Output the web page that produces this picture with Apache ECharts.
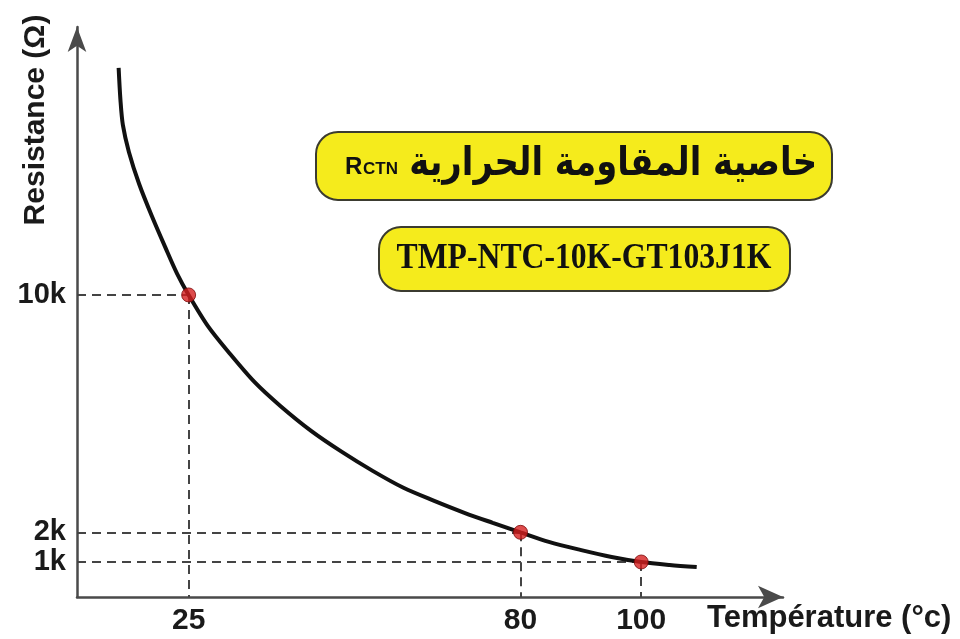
<!DOCTYPE html>
<html>
<head>
<meta charset="utf-8">
<script src="https://cdn.jsdelivr.net/npm/echarts@6/dist/echarts.min.js"></script>
<style>
  html, body { margin: 0; padding: 0; background: #fff; }
  #chart { width: 960px; height: 639px; }
</style>
</head>
<body>
<div id="chart"></div>
<script>
// NTC curve (temperature in °C, resistance in Ω)
const curveTemps = [13.4, 13.7, 14.1, 15.1, 16.8, 18.9, 21.1, 23.1, 25, 28.2, 31.6, 35.9, 40.2, 45.3, 50.4, 55.5, 60.6, 65.7, 70.8, 75.4, 80, 84.7, 89.9, 95.1, 100, 104.7, 109.2];
const curveRes = [17650, 16570, 15730, 14820, 13740, 12660, 11620, 10710, 10000, 8950, 8080, 7070, 6260, 5420, 4710, 4070, 3500, 3060, 2650, 2320, 2000, 1680, 1410, 1170, 1000, 900, 830];

// highlighted points
const markTemps = [25, 80, 100];
const markRes = [10000, 2000, 1000];

// tick labels
const tempTicks = [25, 80, 100];
const resTicks = [1000, 2000, 10000];

const titleAr = 'خاصية المقاومة الحرارية';
const partName = 'TMP-NTC-10K-GT103J1K';

const xMin = 6.5, xMax = 123.5;
const yMin = -180, yMax = 19030;

const chart = echarts.init(document.getElementById('chart'));

const guideLines = [];
markTemps.forEach((t, i) => {
    const r = markRes[i];
    guideLines.push([{ coord: [xMin, r] }, { coord: [t, r] }]);
    guideLines.push([{ coord: [t, r] }, { coord: [t, yMin] }]);
});

const labelFont = { fontFamily: '"Liberation Sans", Arial, sans-serif', fontWeight: 'bold', color: '#1a1a1a' };

chart.setOption({
    backgroundColor: '#fff',
    animation: false,
    grid: { left: 77, right: 177, top: 27, bottom: 42, containLabel: false },
    xAxis: {
        type: 'value',
        min: xMin,
        max: xMax,
        name: 'Température (°c)',
        nameLocation: 'end',
        nameGap: -76,
        nameTextStyle: { ...labelFont, fontSize: 31, align: 'left', verticalAlign: 'top', padding: [6, 0, 0, 0] },
        axisLine: {
            onZero: false,
            symbol: ['none', 'arrow'],
            symbolSize: [17, 25],
            lineStyle: { color: '#4a4a4a', width: 2.5 }
        },
        axisTick: { show: false },
        splitLine: { show: false },
        axisLabel: { ...labelFont, fontSize: 30, margin: 9, customValues: tempTicks, hideOverlap: false }
    },
    yAxis: {
        type: 'value',
        min: yMin,
        max: yMax,
        axisLine: {
            show: true,
            onZero: false,
            symbol: ['none', 'arrow'],
            symbolSize: [14, 25],
            lineStyle: { color: '#4a4a4a', width: 2.5 }
        },
        axisTick: { show: false },
        splitLine: { show: false },
        axisLabel: {
            ...labelFont,
            fontSize: 29,
            lineHeight: 26,
            margin: 11,
            hideOverlap: false,
            customValues: resTicks,
            formatter: v => (v / 1000) + 'k'
        }
    },
    series: [
        {
            type: 'line',
            data: curveTemps.map((t, i) => [t, curveRes[i]]),
            smooth: 0.3,
            showSymbol: false,
            lineStyle: { color: '#111', width: 4 },
            z: 3
        },
        {
            type: 'scatter',
            data: markTemps.map((t, i) => [t, markRes[i]]),
            symbolSize: 14,
            itemStyle: { color: '#d61f1f', borderColor: '#7a0808', borderWidth: 1 },
            z: 5,
            markLine: {
                silent: true,
                symbol: 'none',
                label: { show: false },
                lineStyle: { color: '#444', width: 2, type: [9, 6] },
                data: guideLines,
                z: 1
            }
        }
    ],
    graphic: [
        {
            type: 'text',
            x: 36, y: 120,
            rotation: Math.PI / 2,
            style: {
                text: 'Resistance (Ω)',
                font: 'bold 30px "Liberation Sans", Arial, sans-serif',
                fill: '#1a1a1a',
                align: 'center',
                verticalAlign: 'middle'
            }
        },
        {
            type: 'rect',
            shape: { x: 316, y: 132, width: 516, height: 68, r: 22 },
            style: { fill: '#f5eb1c', stroke: '#3b3b30', lineWidth: 2 }
        },
        {
            type: 'text',
            x: 817, y: 165,
            scaleX: 0.845,
            style: {
                text: titleAr,
                font: 'bold 40px "DejaVu Sans", sans-serif',
                fill: '#111',
                align: 'right',
                verticalAlign: 'middle'
            }
        },
        {
            type: 'text',
            x: 345, y: 179,
            style: { text: 'R', font: 'bold 24px "Liberation Sans", Arial, sans-serif', fill: '#111', align: 'left', verticalAlign: 'bottom' }
        },
        {
            type: 'text',
            x: 363, y: 178,
            style: { text: 'CTN', font: 'bold 17px "Liberation Sans", Arial, sans-serif', fill: '#111', align: 'left', verticalAlign: 'bottom' }
        },
        {
            type: 'rect',
            shape: { x: 379, y: 227, width: 411, height: 64, r: 22 },
            style: { fill: '#f5eb1c', stroke: '#3b3b30', lineWidth: 2 }
        },
        {
            type: 'text',
            x: 584, y: 259,
            scaleX: 0.88,
            style: {
                text: partName,
                font: 'bold 36px "Liberation Serif", "Times New Roman", serif',
                fill: '#111',
                align: 'center',
                verticalAlign: 'middle'
            }
        }
    ]
});
</script>
</body>
</html>
